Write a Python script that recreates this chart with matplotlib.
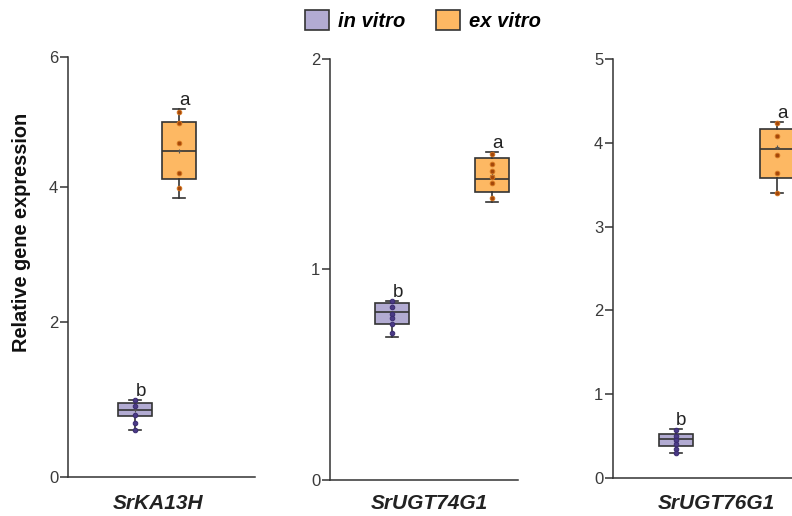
import matplotlib
matplotlib.use("Agg")
import matplotlib.pyplot as plt
import matplotlib.transforms as mtransforms
import numpy as np
from matplotlib.patches import Patch

plt.rcParams['font.family'] = ['Liberation Sans', 'DejaVu Sans']

genes = ["SrKA13H", "SrUGT74G1", "SrUGT76G1"]
groups = ["in vitro", "ex vitro"]
letters = [["b", "a"], ["b", "a"], ["b", "a"]]

# box stats: [whislo, q1, med, q3, whishi, mean]
stats_invitro = [
    [0.61, 0.79, 0.87, 0.96, 0.99, 0.86],
    [0.68, 0.74, 0.80, 0.84, 0.85, 0.79],
    [0.30, 0.38, 0.46, 0.53, 0.59, 0.45],
]
stats_exvitro = [
    [3.84, 4.13, 4.55, 5.00, 5.20, 4.55],
    [1.32, 1.37, 1.43, 1.53, 1.56, 1.45],
    [3.40, 3.58, 3.93, 4.17, 4.25, 3.95],
]
points_invitro = [
    [0.99, 0.92, 0.80, 0.70, 0.61],
    [0.85, 0.82, 0.79, 0.77, 0.74, 0.70],
    [0.57, 0.50, 0.45, 0.41, 0.35, 0.30],
]
points_exvitro = [
    [5.16, 4.99, 4.68, 4.22, 3.98],
    [1.55, 1.50, 1.47, 1.44, 1.41, 1.34],
    [4.24, 4.08, 3.86, 3.64, 3.40],
]
yticks = [[0, 2, 4, 6], [0, 1, 2], [0, 1, 2, 3, 4, 5]]

box_colors = ["#b2abd2", "#fdb863"]
dot_colors = ["#4a3a86", "#a3470b"]
dot_edges = ["#3a2b70", "#d2741f"]
edge = "#333333"

# layout (figure fractions) and box positions inside each panel
axes_rect = [
    [0.0859, 0.0756, 0.236, 0.813],
    [0.4167, 0.0698, 0.237, 0.816],
    [0.7740, 0.0736, 0.237, 0.812],
]
positions = [[0.358, 0.594], [0.33, 0.862], [0.335, 0.872]]
label_x = [0.48, 0.53, 0.55]

fig = plt.figure(figsize=(7.92, 5.16), dpi=100)

for i, gene in enumerate(genes):
    ax = fig.add_axes(axes_rect[i])
    if i == 0:
        # the first panel's axis in the picture is not evenly spaced
        px = [0, 155, 290, 419.4]
        ax.set_yscale("function", functions=(lambda y: np.interp(y, [0, 2, 4, 6], px),
                                             lambda p: np.interp(p, px, [0, 2, 4, 6])))
    bstats = []
    for s in (stats_invitro[i], stats_exvitro[i]):
        bstats.append(dict(whislo=s[0], q1=s[1], med=s[2], q3=s[3], whishi=s[4],
                           mean=s[5], fliers=[]))
    bp = ax.bxp(bstats, positions=positions[i], widths=0.18, capwidths=0.065,
                patch_artist=True, showmeans=True, manage_ticks=False,
                boxprops=dict(edgecolor=edge, linewidth=1.2),
                medianprops=dict(color=edge, linewidth=1.2),
                whiskerprops=dict(color=edge, linewidth=1.2),
                capprops=dict(color=edge, linewidth=1.2),
                meanprops=dict(marker="+", markersize=3, markeredgecolor="#555555",
                               markeredgewidth=0.8))
    for j, patch in enumerate(bp["boxes"]):
        patch.set_facecolor(box_colors[j])
    for j, pts in enumerate((points_invitro[i], points_exvitro[i])):
        ax.plot([positions[i][j]] * len(pts), pts, "o", ms=3.3,
                color=dot_colors[j], mec=dot_edges[j], mew=0.7, zorder=4)
    for j, s in enumerate((stats_invitro[i], stats_exvitro[i])):
        ax.annotate(letters[i][j], (positions[i][j], s[4]), xytext=(4, 0),
                    textcoords="offset points", ha="center", va="bottom",
                    fontsize=13.5, color="#222222")

    ax.set_xlim(0, 1)
    ax.set_ylim(0, yticks[i][-1])
    ax.set_yticks(yticks[i])
    ax.set_xticks([])
    ax.minorticks_off()
    ax.spines["top"].set_visible(False)
    ax.spines["right"].set_visible(False)
    for sp in ("left", "bottom"):
        ax.spines[sp].set_color("#333333")
        ax.spines[sp].set_linewidth(1.1)
    ax.tick_params(axis="y", length=6, width=1.1, pad=1, labelsize=12,
                   color="#333333", labelcolor="#3a3a3a")
    trans = mtransforms.blended_transform_factory(ax.transAxes, fig.transFigure)
    ax.text(label_x[i], 0.0245, gene, transform=trans, ha="center", va="center",
            fontsize=15, fontweight="bold", fontstyle="italic", color="#222222")
    if i == 0:
        ax.set_ylabel("Relative gene expression", fontsize=14.4, fontweight="bold",
                      color="#111111")
        ax.yaxis.set_label_coords(-0.2, 0.584)

handles = [Patch(facecolor=box_colors[k], edgecolor=edge, linewidth=1.2) for k in range(2)]
fig.legend(handles, groups, loc="center", bbox_to_anchor=(0.534, 0.96), ncol=2,
           frameon=False, prop=dict(size=14.5, weight="bold", style="italic"),
           handlelength=1.2, handleheight=1.15, columnspacing=1.5, handletextpad=0.45)

fig.savefig("out.png", dpi=100)
